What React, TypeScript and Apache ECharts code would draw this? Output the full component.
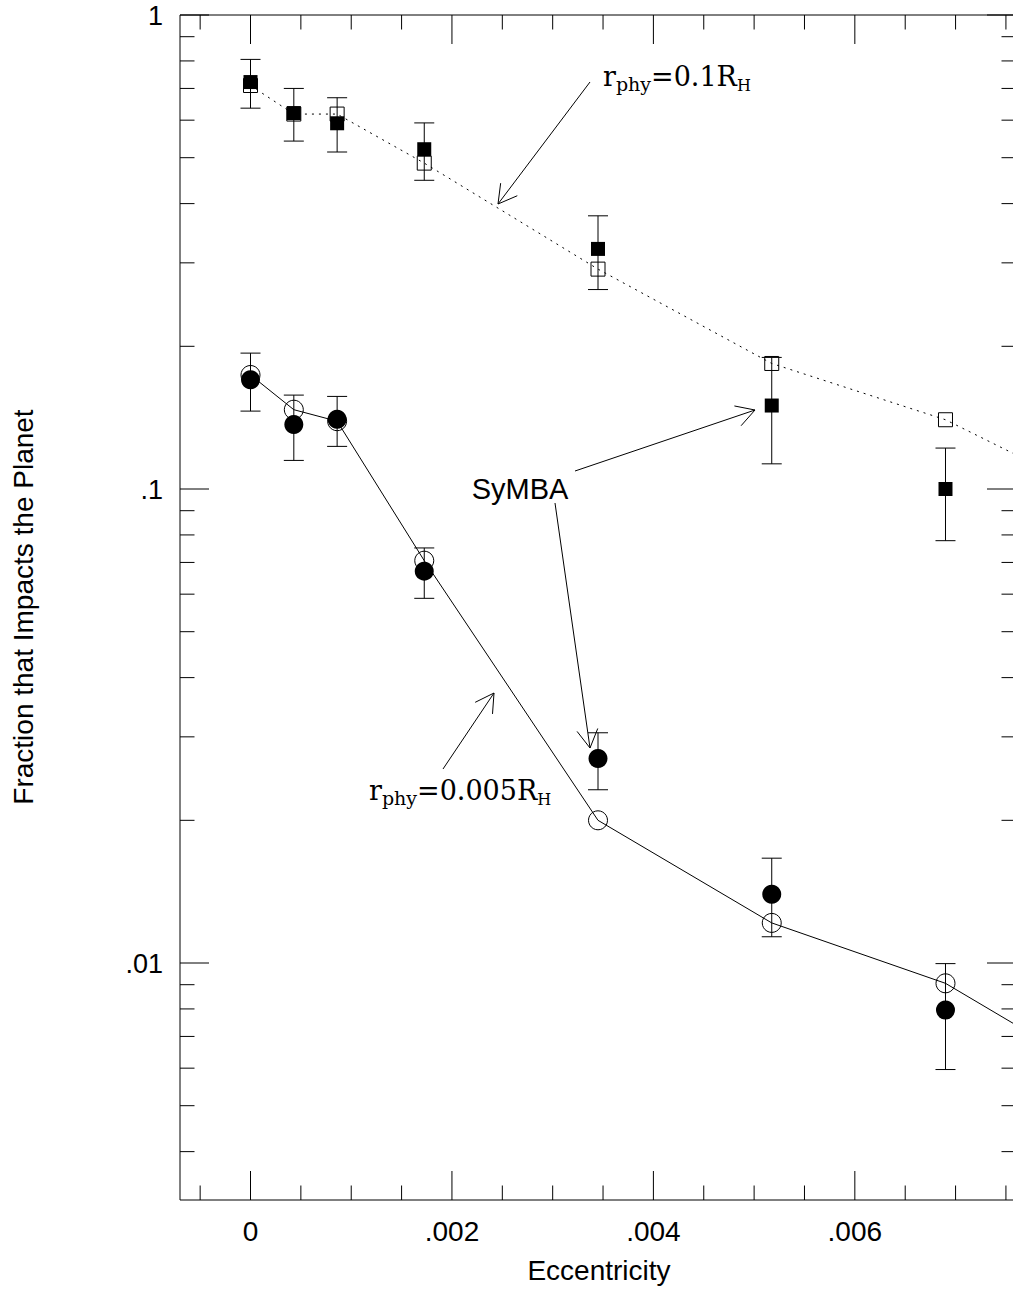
import React, { useEffect, useRef } from 'react';
import * as echarts from 'echarts';

// ---- data ----
const eccentricity = [0, 0.00043, 0.00086, 0.001725, 0.00345, 0.005175, 0.0069];
const eccentricityBeyond = 0.008625; // next point, outside the visible frame

// r_phy = 0.1 R_H
const integratedWide = [0.71, 0.618, 0.618, 0.487, 0.291, 0.184, 0.14];
const integratedWideBeyond = 0.092;
const symbaWide = [0.722, 0.621, 0.591, 0.521, 0.321, 0.15, 0.1];
const symbaWideLow = [0.636, 0.542, 0.514, 0.448, 0.2635, 0.113, 0.0778];
const symbaWideHigh = [0.806, 0.7, 0.669, 0.592, 0.377, 0.1895, 0.122];

// r_phy = 0.005 R_H
const integratedNarrow = [0.174, 0.147, 0.139, 0.0706, 0.02, 0.01215, 0.00906];
const integratedNarrowBeyond = 0.0055;
const symbaNarrow = [0.17, 0.1368, 0.1403, 0.0671, 0.027, 0.01396, 0.00796];
const symbaNarrowLow = [0.146, 0.1149, 0.123, 0.0588, 0.0232, 0.01136, 0.00596];
const symbaNarrowHigh = [0.1935, 0.1578, 0.1568, 0.0751, 0.0306, 0.01664, 0.00997];

// axes
const X_MIN = -0.0007;
const X_MAX = 0.0076;
const Y_MIN = 0.0031623;
const Y_MAX = 1;
const xMajorTicks = [0, 0.002, 0.004, 0.006];
const xTickLabels = ['0', '.002', '.004', '.006'];
const xMinorStep = 0.0005;
const yMajorTicks = [1, 0.1, 0.01];
const yTickLabels = ['1', '.1', '.01'];
const yMinorMultipliers = [2, 3, 4, 5, 6, 7, 8, 9];
const yDecades = [0.001, 0.01, 0.1];

const xTitle = 'Eccentricity';
const yTitle = 'Fraction that Impacts the Planet';

const SANS = '"Liberation Sans", Arial, Helvetica, sans-serif';
const SERIF = '"DejaVu Serif", "Liberation Serif", serif';

function buildXMinor(): number[] {
  const out: number[] = [];
  for (let k = Math.ceil(X_MIN / xMinorStep); k * xMinorStep <= X_MAX + 1e-12; k++) {
    const v = +(k * xMinorStep).toFixed(6);
    if (!xMajorTicks.some((m) => Math.abs(m - v) < 1e-9)) out.push(v);
  }
  return out;
}
function buildYMinor(): number[] {
  const out: number[] = [];
  yDecades.forEach((d) =>
    yMinorMultipliers.forEach((m) => {
      const v = m * d;
      if (v >= Y_MIN && v <= Y_MAX) out.push(v);
    })
  );
  return out;
}

let measureCtx: CanvasRenderingContext2D | null = null;
function textWidth(text: string, size: number, family: string): number {
  if (!measureCtx) measureCtx = document.createElement('canvas').getContext('2d');
  if (!measureCtx) return text.length * size * 0.6;
  measureCtx.font = `${size}px ${family}`;
  return measureCtx.measureText(text).width;
}

type Piece = { text: string; size: number; drop: number };
function subscriptLabel(x: number, baseline: number, pieces: Piece[]) {
  const els: any[] = [];
  let cx = x;
  pieces.forEach((p) => {
    els.push({
      type: 'text',
      x: cx,
      y: baseline + p.drop - 0.35 * p.size,
      style: {
        text: p.text,
        fontSize: p.size,
        fontFamily: SERIF,
        fill: '#000',
        align: 'left',
        verticalAlign: 'middle',
      },
      z: 20,
    });
    cx += textWidth(p.text, p.size, SERIF);
  });
  return els;
}

function arrow(x1: number, y1: number, x2: number, y2: number) {
  const ang = Math.atan2(y1 - y2, x1 - x2);
  const L = 21;
  const a = 0.52;
  const w1 = [x2 + L * Math.cos(ang + a), y2 + L * Math.sin(ang + a)];
  const w2 = [x2 + L * Math.cos(ang - a), y2 + L * Math.sin(ang - a)];
  return [
    { type: 'line', shape: { x1, y1, x2, y2 }, style: { stroke: '#000', lineWidth: 1 }, z: 20 },
    {
      type: 'polyline',
      shape: { points: [w1, [x2, y2], w2] },
      style: { stroke: '#000', lineWidth: 1, fill: 'transparent' },
      z: 20,
    },
  ];
}

export default function App() {
  const ref = useRef<HTMLDivElement>(null);

  useEffect(() => {
    if (!ref.current) return;
    const chart = echarts.init(ref.current, null, { renderer: 'svg' });

    const xMinor = buildXMinor();
    const yMinor = buildYMinor();

    const lineData = (vals: number[], beyond: number) => [
      ...eccentricity.map((e, i) => [e, vals[i]]),
      { value: [eccentricityBeyond, beyond], symbol: 'none' },
    ];
    const errData = [
      ...eccentricity.map((e, i) => [e, symbaWideLow[i], symbaWideHigh[i]]),
      ...eccentricity.map((e, i) => [e, symbaNarrowLow[i], symbaNarrowHigh[i]]),
    ];

    const frameRender = (_params: any, api: any) => {
      const children: any[] = [];
      const tl = api.coord([X_MIN, Y_MAX]);
      const br = api.coord([X_MAX, Y_MIN]);
      const left = tl[0];
      const top = tl[1];
      const right = br[0];
      const bottom = br[1];
      const ln = (x1: number, y1: number, x2: number, y2: number) =>
        children.push({
          type: 'line',
          shape: { x1, y1, x2, y2 },
          style: { stroke: '#000', lineWidth: 1 },
        });
      const MAJ = 29;
      const MIN = 14.5;
      xMajorTicks.forEach((v, i) => {
        const x = api.coord([v, Y_MIN])[0];
        ln(x, bottom, x, bottom - MAJ);
        ln(x, top, x, top + MAJ);
        children.push({
          type: 'text',
          x,
          y: bottom + 31,
          style: {
            text: xTickLabels[i],
            fontSize: 28,
            fontFamily: SANS,
            fill: '#000',
            align: 'center',
            verticalAlign: 'middle',
          },
        });
      });
      xMinor.forEach((v) => {
        const x = api.coord([v, Y_MIN])[0];
        ln(x, bottom, x, bottom - MIN);
        ln(x, top, x, top + MIN);
      });
      yMajorTicks.forEach((v, i) => {
        const y = api.coord([0, v])[1];
        ln(left, y, left + MAJ, y);
        ln(right, y, right - MAJ, y);
        children.push({
          type: 'text',
          x: left - 17,
          y: y + 1,
          style: {
            text: yTickLabels[i],
            fontSize: 27,
            fontFamily: SANS,
            fill: '#000',
            align: 'right',
            verticalAlign: 'middle',
          },
        });
      });
      yMinor.forEach((v) => {
        const y = api.coord([0, v])[1];
        ln(left, y, left + MIN, y);
        ln(right, y, right - MIN, y);
      });
      return { type: 'group', children };
    };

    const errRender = (_params: any, api: any) => {
      const x = api.value(0);
      const lo = api.coord([x, api.value(1)]);
      const hi = api.coord([x, api.value(2)]);
      const cap = 10;
      const st = { stroke: '#000', lineWidth: 1 };
      return {
        type: 'group',
        children: [
          { type: 'line', shape: { x1: lo[0], y1: lo[1], x2: hi[0], y2: hi[1] }, style: st },
          { type: 'line', shape: { x1: lo[0] - cap, y1: lo[1], x2: lo[0] + cap, y2: lo[1] }, style: st },
          { type: 'line', shape: { x1: hi[0] - cap, y1: hi[1], x2: hi[0] + cap, y2: hi[1] }, style: st },
        ],
      };
    };

    const graphics: any[] = [
      {
        type: 'text',
        x: 599,
        y: 1270,
        style: {
          text: xTitle,
          fontSize: 28,
          fontFamily: SANS,
          fill: '#000',
          align: 'center',
          verticalAlign: 'middle',
        },
      },
      {
        type: 'text',
        x: 23.5,
        y: 607,
        rotation: Math.PI / 2,
        style: {
          text: yTitle,
          fontSize: 28,
          fontFamily: SANS,
          fill: '#000',
          align: 'center',
          verticalAlign: 'middle',
        },
      },
      {
        type: 'text',
        x: 520,
        y: 489,
        style: {
          text: 'SyMBA',
          fontSize: 29,
          fontFamily: SANS,
          fill: '#000',
          align: 'center',
          verticalAlign: 'middle',
        },
        z: 20,
      },
      ...subscriptLabel(603, 86, [
        { text: 'r', size: 27, drop: 0 },
        { text: 'phy', size: 19, drop: 5 },
        { text: '=0.1R', size: 27, drop: 0 },
        { text: 'H', size: 16, drop: 5 },
      ]),
      ...subscriptLabel(369, 800, [
        { text: 'r', size: 27, drop: 0 },
        { text: 'phy', size: 19, drop: 5 },
        { text: '=0.005R', size: 27, drop: 0 },
        { text: 'H', size: 16, drop: 5 },
      ]),
      ...arrow(590, 82, 498, 204),
      ...arrow(575, 471, 755, 410),
      ...arrow(555, 503, 590, 748),
      ...arrow(443, 769, 494, 693),
    ];

    chart.setOption({
      animation: false,
      backgroundColor: '#fff',
      grid: {
        left: 180,
        top: 15,
        width: 836,
        height: 1185,
        show: true,
        borderColor: '#000',
        borderWidth: 1,
        backgroundColor: 'transparent',
        containLabel: false,
        outerBoundsMode: 'none',
      },
      xAxis: {
        type: 'value',
        min: X_MIN,
        max: X_MAX,
        axisLine: { show: false },
        axisTick: { show: false },
        axisLabel: { show: false },
        splitLine: { show: false },
      },
      yAxis: {
        type: 'log',
        logBase: 10,
        min: Y_MIN,
        max: Y_MAX,
        axisLine: { show: false },
        axisTick: { show: false },
        axisLabel: { show: false },
        splitLine: { show: false },
      },
      tooltip: { show: false },
      series: [
        {
          type: 'line',
          name: 'integrated r=0.1',
          data: lineData(integratedWide, integratedWideBeyond),
          symbol: 'rect',
          symbolSize: 14,
          showAllSymbol: true,
          itemStyle: { color: 'rgba(0,0,0,0)', borderColor: '#000', borderWidth: 1, opacity: 1 },
          lineStyle: { color: '#000', width: 1, type: [2, 5] },
          emphasis: { disabled: true },
          z: 2,
        },
        {
          type: 'line',
          name: 'integrated r=0.005',
          data: lineData(integratedNarrow, integratedNarrowBeyond),
          symbol: 'circle',
          symbolSize: 19,
          showAllSymbol: true,
          itemStyle: { color: 'rgba(0,0,0,0)', borderColor: '#000', borderWidth: 1, opacity: 1 },
          lineStyle: { color: '#000', width: 1, type: 'solid' },
          emphasis: { disabled: true },
          z: 2,
        },
        {
          type: 'custom',
          name: 'error bars',
          data: errData,
          renderItem: errRender,
          z: 3,
          silent: true,
        },
        {
          type: 'scatter',
          name: 'SyMBA r=0.1',
          data: eccentricity.map((e, i) => [e, symbaWide[i]]),
          symbol: 'rect',
          symbolSize: 14,
          itemStyle: { color: '#000', opacity: 1 },
          emphasis: { disabled: true },
          z: 4,
        },
        {
          type: 'scatter',
          name: 'SyMBA r=0.005',
          data: eccentricity.map((e, i) => [e, symbaNarrow[i]]),
          symbol: 'circle',
          symbolSize: 19,
          itemStyle: { color: '#000', opacity: 1 },
          emphasis: { disabled: true },
          z: 4,
        },
        {
          type: 'custom',
          name: 'frame',
          data: [[0, 0.1]],
          renderItem: frameRender,
          z: 5,
          silent: true,
        },
      ],
      graphic: { elements: graphics },
    });

    return () => {
      chart.dispose();
    };
  }, []);

  return (
    <div
      style={{
        position: 'fixed',
        left: 0,
        top: 0,
        width: 1013,
        height: 1294,
        overflow: 'hidden',
        background: '#fff',
      }}
    >
      <div ref={ref} style={{ width: 1040, height: 1294 }} />
    </div>
  );
}
